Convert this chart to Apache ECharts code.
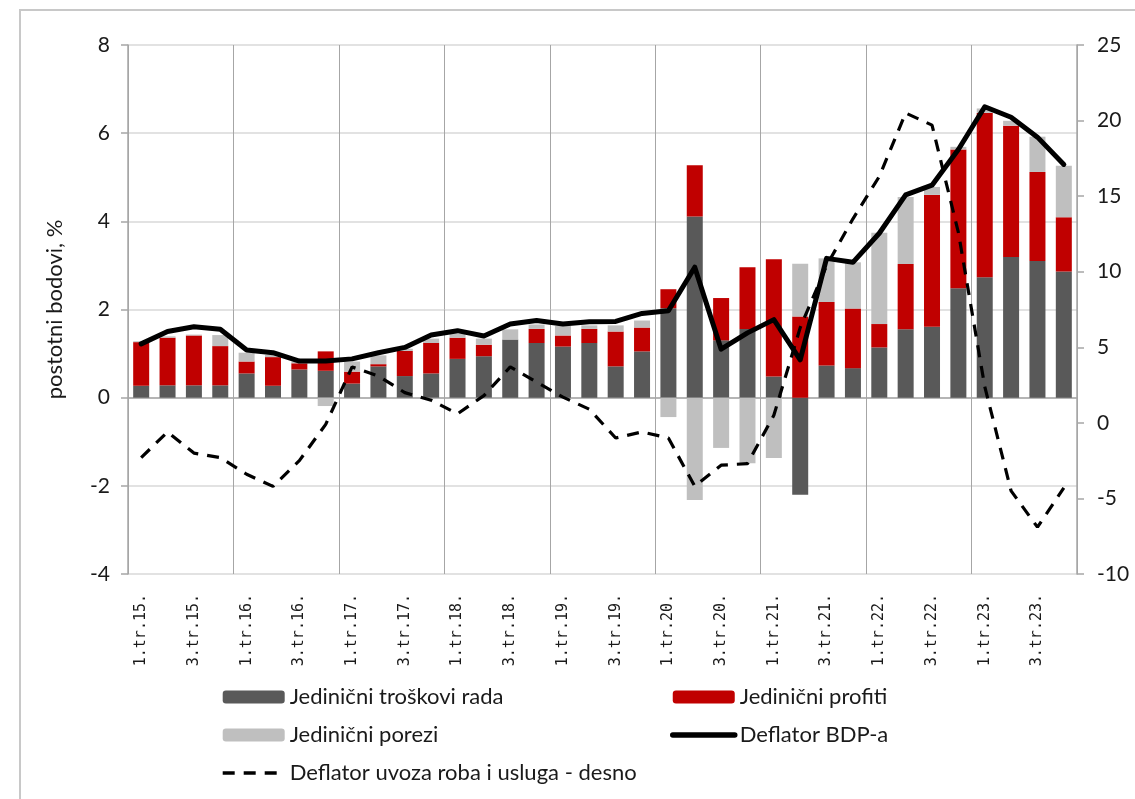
<!DOCTYPE html>
<html>
<head>
<meta charset="utf-8">
<script src="https://cdn.jsdelivr.net/npm/echarts@6/dist/echarts.min.js"></script>
<style>
	html, body { margin: 0; padding: 0; background: #fff; }
	#chart { width: 1135px; height: 799px; }
</style>
</head>
<body>
<div id="chart"></div>
<script>
'use strict';
// kvartali 1.tr.15. - 4.tr.23.
var quarters = [];
for (var y = 15; y <= 23; y++) {
	for (var q = 1; q <= 4; q++) {
		quarters.push(q + '.tr.' + y + '.');
	}
}

// doprinosi, postotni bodovi
var troskoviRada = [0.27, 0.28, 0.28, 0.28, 0.55, 0.27, 0.64, 0.61, 0.32, 0.71, 0.49, 0.55,
	0.88, 0.94, 1.32, 1.24, 1.16, 1.24, 0.71, 1.05, 2.03, 4.11, 1.30, 1.56,
	0.48, -2.20, 0.73, 0.67, 1.14, 1.55, 1.61, 2.48, 2.73, 3.19, 3.10, 2.86];
var profiti = [0.99, 1.08, 1.13, 0.89, 0.27, 0.65, 0.14, 0.44, 0.27, 0.05, 0.57, 0.69,
	0.48, 0.26, 0.00, 0.32, 0.25, 0.32, 0.79, 0.54, 0.43, 1.16, 0.96, 1.40,
	2.66, 1.84, 1.44, 1.35, 0.53, 1.48, 2.99, 3.15, 3.73, 2.98, 2.02, 1.23];
var porezi = [0.02, 0.03, 0.02, 0.25, 0.20, 0.05, 0.04, -0.19, 0.23, 0.20, 0.05, 0.10,
	0.10, 0.14, 0.23, 0.10, 0.22, 0.08, 0.14, 0.16, -0.44, -2.32, -1.14, -1.49,
	-1.37, 1.20, 0.99, 1.05, 2.07, 1.52, 0.18, 0.06, 0.10, 0.11, 0.80, 1.17];
var deflatorBDP = [1.22, 1.50, 1.61, 1.55, 1.08, 1.02, 0.83, 0.83, 0.88, 1.02, 1.14, 1.42,
	1.52, 1.40, 1.67, 1.75, 1.67, 1.72, 1.73, 1.91, 1.97, 2.96, 1.10, 1.47,
	1.77, 0.86, 3.16, 3.07, 3.73, 4.60, 4.82, 5.63, 6.60, 6.36, 5.91, 5.29];
// desna os, %
var deflatorUvoza = [-2.3, -0.6, -2.0, -2.3, -3.4, -4.2, -2.5, -0.1, 3.7, 3.1, 2.0, 1.5,
	0.6, 1.8, 3.7, 2.7, 1.7, 0.9, -1.0, -0.6, -1.0, -4.2, -2.8, -2.7,
	0.5, 6.3, 10.4, 13.5, 16.3, 20.5, 19.7, 12.6, 2.4, -4.5, -6.9, -4.3];

var FONT = 'Lato';
var TXT = '#1a1a1a';
var DASH = [12, 9];

var chart = echarts.init(document.getElementById('chart'));

// legend linije bez kružića
var noDot = { color: 'rgba(0,0,0,0)', borderColor: 'rgba(0,0,0,0)', borderWidth: 0 };

var option = {
	backgroundColor: '#fff',
	animation: false,
	textStyle: { fontFamily: FONT, color: TXT },
	graphic: [{
		type: 'rect',
		shape: { x: 20, y: 10, width: 1300, height: 900 },
		style: { fill: 'none', stroke: '#c8c8c8', lineWidth: 2 },
		silent: true
	}],
	grid: { left: 128, right: 58, top: 45, bottom: 225 },
	legend: [{
		orient: 'vertical',
		left: 216, top: 681,
		itemWidth: 62, itemHeight: 13, itemGap: 16,
		textStyle: { fontFamily: FONT, fontSize: 22, color: TXT },
		data: ['Jedinični troškovi rada', 'Jedinični porezi', {
			name: 'Deflator uvoza roba i usluga - desno',
			itemStyle: noDot,
			lineStyle: { width: 3.4, type: DASH, color: '#000' }
		}]
	}, {
		orient: 'vertical',
		left: 665, top: 681,
		itemWidth: 62, itemHeight: 13, itemGap: 16,
		textStyle: { fontFamily: FONT, fontSize: 22, color: TXT },
		data: ['Jedinični profiti', {
			name: 'Deflator BDP-a',
			itemStyle: noDot,
			lineStyle: { width: 5.5, color: '#000', cap: 'round' }
		}]
	}],
	xAxis: {
		type: 'category',
		data: quarters,
		axisLine: { lineStyle: { color: '#a6a6a6', width: 1.5 } },
		axisTick: { show: false },
		axisLabel: {
			interval: 1, rotate: 90, margin: 20,
			fontFamily: 'DejaVu Sans Mono', fontSize: 15, color: TXT
		},
		splitLine: {
			show: true,
			interval: function (i) { return i % 4 === 0; },
			lineStyle: { color: '#a6a6a6', width: 1 }
		}
	},
	yAxis: [{
		type: 'value',
		min: -4, max: 8, interval: 2,
		name: 'postotni bodovi, %',
		nameLocation: 'middle', nameGap: 62, nameRotate: 90,
		nameTextStyle: { fontFamily: FONT, fontSize: 22, color: TXT },
		axisLine: { show: true, lineStyle: { color: '#a6a6a6', width: 1.5 } },
		axisTick: { show: true, length: 7, lineStyle: { color: '#a6a6a6', width: 1.5 } },
		axisLabel: { margin: 18, fontFamily: FONT, fontSize: 21, color: TXT },
		splitLine: { lineStyle: { color: '#d9d9d9', width: 1.5 } }
	}, {
		type: 'value',
		min: -10, max: 25, interval: 5,
		position: 'right',
		axisLine: { show: true, lineStyle: { color: '#a6a6a6', width: 1.5 } },
		axisTick: { show: true, length: 7, lineStyle: { color: '#a6a6a6', width: 1.5 } },
		axisLabel: { margin: 20, fontFamily: FONT, fontSize: 21, color: TXT },
		splitLine: { show: false }
	}],
	series: [{
		name: 'Jedinični troškovi rada',
		type: 'bar', stack: 'd', barWidth: 16,
		itemStyle: { color: '#595959' },
		data: troskoviRada
	}, {
		name: 'Jedinični profiti',
		type: 'bar', stack: 'd', barWidth: 16,
		itemStyle: { color: '#c00000' },
		data: profiti
	}, {
		name: 'Jedinični porezi',
		type: 'bar', stack: 'd', barWidth: 16,
		itemStyle: { color: '#bfbfbf' },
		data: porezi
	}, {
		name: 'Deflator BDP-a',
		type: 'line', symbol: 'none', z: 5,
		lineStyle: { color: '#000', width: 5, cap: 'round', join: 'round' },
		itemStyle: { color: '#000' },
		data: deflatorBDP
	}, {
		name: 'Deflator uvoza roba i usluga - desno',
		type: 'line', symbol: 'none', yAxisIndex: 1, z: 6,
		lineStyle: { color: '#000', width: 3.2, type: DASH },
		itemStyle: { color: '#000' },
		data: deflatorUvoza
	}]
};

chart.setOption(option);
</script>
</body>
</html>
